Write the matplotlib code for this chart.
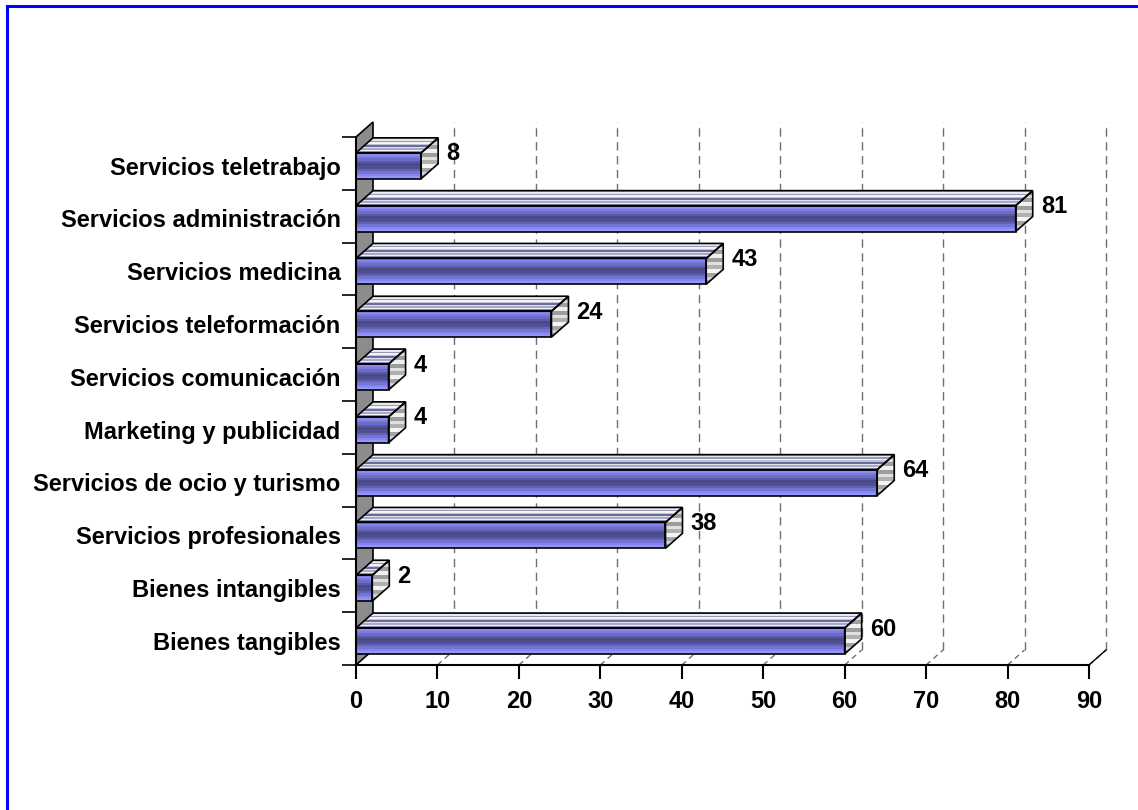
import matplotlib
matplotlib.use("Agg")
import matplotlib.pyplot as plt
import numpy as np
from matplotlib.patches import Polygon
from matplotlib.lines import Line2D
from matplotlib.colors import to_rgb

categories = ["Bienes tangibles", "Bienes intangibles", "Servicios profesionales",
              "Servicios de ocio y turismo", "Marketing y publicidad",
              "Servicios comunicación", "Servicios teleformación",
              "Servicios medicina", "Servicios administración", "Servicios teletrabajo"]
values = [60, 2, 38, 64, 4, 4, 24, 43, 81, 8]
xticks = [0, 10, 20, 30, 40, 50, 60, 70, 80, 90]

plt.rcParams['font.family'] = ['Liberation Sans', 'DejaVu Sans']

W, H = 1138, 810
fig = plt.figure(figsize=(W / 100, H / 100), dpi=100)
x0p, x1p, y0p, y1p = 356, 1089, 665, 137
ax = fig.add_axes([x0p / W, 1 - y0p / H, (x1p - x0p) / W, (y0p - y1p) / H])
n = len(categories)
ax.set_xlim(0, 90)
ax.set_ylim(0, n)
for s in ax.spines.values():
    s.set_visible(False)

pxu = (x1p - x0p) / 90.0
pyu = (y0p - y1p) / n
dx = 17 / pxu
dy = 15 / pyu

# back-wall gridlines and floor diagonals
for t in xticks[1:]:
    ax.add_line(Line2D([t + dx, t + dx], [dy, n + dy], color="#707070", lw=1,
                       ls=(0, (6, 4)), clip_on=False, zorder=1))
    ax.add_line(Line2D([t, t + dx], [0, dy], color="#707070", lw=1,
                       ls=(0, (4, 3)), clip_on=False, zorder=1))

# left side wall (gray)
wall = Polygon([(0, 0), (dx, dy), (dx, n + dy), (0, n)], closed=True,
               facecolor="#8c8c8c", edgecolor="black", lw=1.2, clip_on=False, zorder=2)
ax.add_patch(wall)

front_cols = ["#8a8af0", "#7c7ce0", "#6b6bc8", "#5a5aa8", "#4a4a88", "#505092",
              "#6262b4", "#7474d2", "#8585ee", "#9494ff"]
top_cols = ["#b8b8c8", "#e8e8f0", "#9898b8", "#f4f4f4", "#c0c0d8", "#6c6c9c",
            "#e0e0e8", "#a8a8c8", "#f0f0f0", "#8888b0"]
side_cols = ["#8c8ca8", "#d8d8d8", "#a0a0a0", "#f0f0f0", "#9c9c9c", "#e0e0e0",
             "#b0b0b0", "#f4f4f4", "#a4a4a4", "#d0d0d8", "#9a9ab4"]

def stripes(cols):
    return np.array([[to_rgb(c)] for c in cols])

fb, ft = 0.21, 0.70
for i, v in enumerate(values):
    yb, yt = i + fb, i + ft
    # top face
    top = [(0, yt), (v, yt), (v + dx, yt + dy), (dx, yt + dy)]
    tp = Polygon(top, closed=True, facecolor="none", edgecolor="black", lw=1.2,
                 clip_on=False, zorder=5)
    ax.add_patch(tp)
    im = ax.imshow(stripes(top_cols), extent=[0, v + dx, yt, yt + dy], aspect="auto",
                   interpolation="nearest", zorder=4, clip_on=True)
    im.set_clip_path(Polygon(top, closed=True, transform=ax.transData))
    # right face
    side = [(v, yb), (v + dx, yb + dy), (v + dx, yt + dy), (v, yt)]
    sp = Polygon(side, closed=True, facecolor="none", edgecolor="black", lw=1.2,
                 clip_on=False, zorder=5)
    ax.add_patch(sp)
    im2 = ax.imshow(stripes(side_cols), extent=[v, v + dx, yb, yt + dy], aspect="auto",
                    interpolation="nearest", zorder=4)
    im2.set_clip_path(Polygon(side, closed=True, transform=ax.transData))
    # front face
    im3 = ax.imshow(stripes(front_cols), extent=[0, v, yb, yt], aspect="auto",
                    interpolation="nearest", zorder=4)
    ax.add_patch(Polygon([(0, yb), (v, yb), (v, yt), (0, yt)], closed=True,
                         facecolor="none", edgecolor="black", lw=1.2, clip_on=False, zorder=5))
    ax.text(v + dx + 1.0, i + 0.68, str(v), fontsize=17, fontweight="bold",
            ha="left", va="center", zorder=6)

# axes lines
ax.add_line(Line2D([0, 90], [0, 0], color="black", lw=1.5, clip_on=False, zorder=6))
ax.add_line(Line2D([0, 0], [0, n], color="black", lw=1.5, clip_on=False, zorder=6))
ax.add_line(Line2D([90, 90 + dx], [0, dy], color="black", lw=1, clip_on=False, zorder=1))

ax.set_xlim(0, 90)
ax.set_ylim(0, n)
ax.set_xticks(xticks)
ax.set_xticklabels([str(t) for t in xticks], fontsize=17, fontweight="bold")
ax.tick_params(axis="x", length=10, width=1.5, pad=8, direction="out")
ax.set_yticks(range(n + 1))
ax.set_yticklabels([""] * (n + 1))
ax.tick_params(axis="y", which="major", length=10, width=1.2, direction="out")
ax.set_yticks([i + 0.46 for i in range(n)], minor=True)
ax.set_yticklabels(categories, minor=True, fontsize=17, fontweight="bold")
ax.tick_params(axis="y", which="minor", length=0, pad=11)

# blue border (top and left visible)
fig.add_artist(Line2D([7 / W, 7 / W], [0, 1 - 6 / H], color="#0000ff", lw=2.2,
                      transform=fig.transFigure))
fig.add_artist(Line2D([7 / W, 1], [1 - 6 / H, 1 - 6 / H], color="#0000ff", lw=2.2,
                      transform=fig.transFigure))

fig.savefig("out.png", dpi=100, facecolor="white")
